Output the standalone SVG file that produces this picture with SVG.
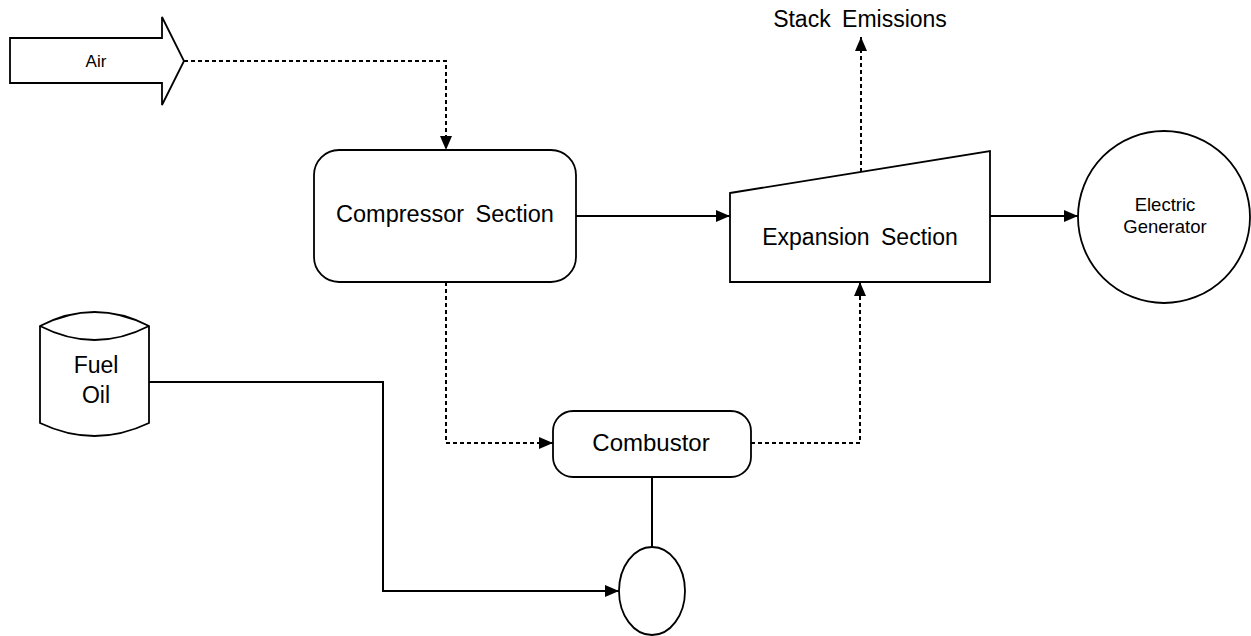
<svg xmlns="http://www.w3.org/2000/svg" width="1251" height="636" viewBox="0 0 1251 636">
<style>
.shape{fill:#fff;stroke:#000;stroke-width:1.8}
.t{font-family:"Liberation Sans",Arial,sans-serif;fill:#000;text-anchor:middle}
.solid{fill:none;stroke:#000;stroke-width:2}
.dash{fill:none;stroke:#000;stroke-width:2;stroke-dasharray:4 3}
</style>
<defs>
<marker id="ah" viewBox="0 0 14 12" refX="14" refY="6" markerWidth="14" markerHeight="12" markerUnits="userSpaceOnUse" orient="auto">
<path d="M0,0 L14,6 L0,12 z" fill="#000"/>
</marker>
</defs>
<rect width="1251" height="636" fill="#fff"/>
<g id="connectors">
<path class="dash" d="M184,61 H446 V150" marker-end="url(#ah)"/>
<path class="solid" d="M576,216 H730" marker-end="url(#ah)"/>
<path class="dash" d="M861,172 V37" marker-end="url(#ah)"/>
<path class="solid" d="M990,216 H1078" marker-end="url(#ah)"/>
<path class="dash" d="M446,282 V443 H553" marker-end="url(#ah)"/>
<path class="dash" d="M751,443 H860 V282" marker-end="url(#ah)"/>
<path class="solid" d="M149,382 H383 V591 H619" marker-end="url(#ah)"/>
<path class="solid" d="M652,477 V547"/>
</g>
<g id="air">
<path class="shape" d="M10,38 H162 V17 L184,61 L162,105 V83 H10 Z"/>
<text class="t" x="96" y="67" font-size="17">Air</text>
</g>
<g id="compressor">
<rect class="shape" x="314" y="150" width="262" height="132" rx="25" ry="25"/>
<text class="t" x="445" y="222" font-size="23.5" word-spacing="5">Compressor Section</text>
</g>
<g id="expansion">
<path class="shape" d="M730,193 L990,151 V282 H730 Z"/>
<text class="t" x="860" y="245" font-size="23" word-spacing="5">Expansion Section</text>
</g>
<g id="stack">
<text class="t" x="860" y="27" font-size="23" word-spacing="5">Stack Emissions</text>
</g>
<g id="generator">
<circle class="shape" cx="1164" cy="217" r="86"/>
<text class="t" x="1165" y="211" font-size="18.5">Electric</text>
<text class="t" x="1165" y="233" font-size="18.5">Generator</text>
</g>
<g id="fueloil">
<path class="shape" d="M40,326 Q94.5,298 149,326 V423 Q94.5,449 40,423 Z"/>
<path class="shape" d="M40,326 Q94.5,354 149,326" fill="none"/>
<text class="t" x="96" y="373" font-size="23">Fuel</text>
<text class="t" x="96" y="403" font-size="23">Oil</text>
</g>
<g id="combustor">
<rect class="shape" x="553" y="411" width="198" height="66" rx="20" ry="20"/>
<text class="t" x="651" y="451" font-size="24">Combustor</text>
</g>
<g id="pump">
<ellipse class="shape" cx="652" cy="591" rx="33" ry="44"/>
</g>
</svg>
